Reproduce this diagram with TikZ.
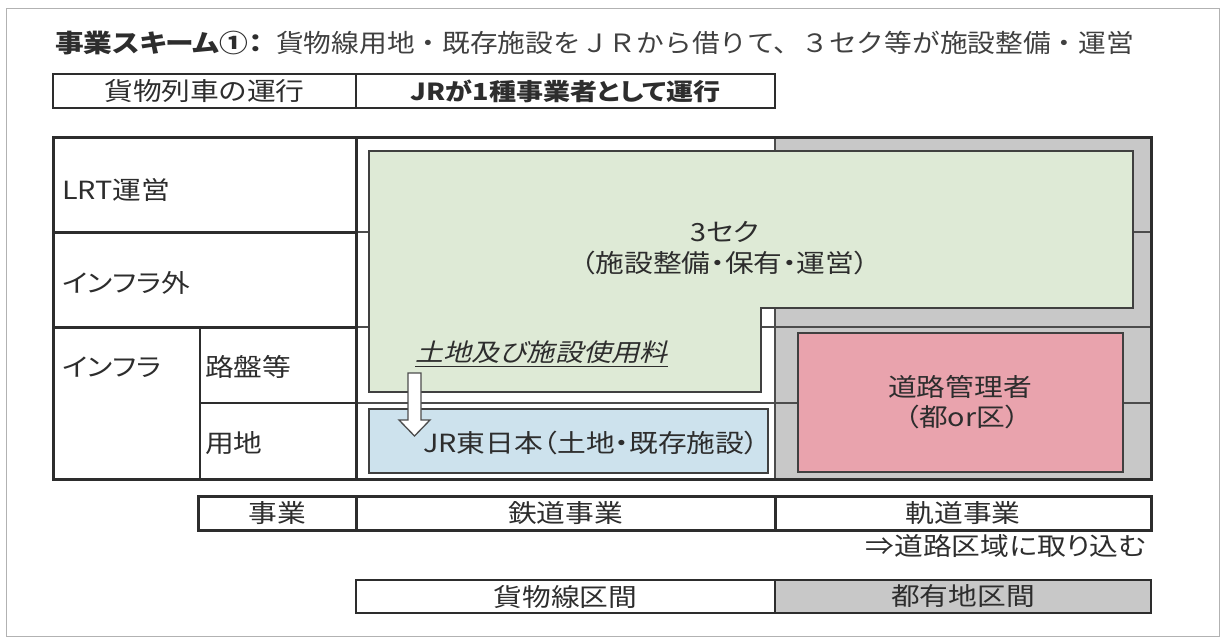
\documentclass[tikz,border=0pt]{standalone}
\usepackage{fontspec}
\usepackage{graphicx}
\newfontfamily\jp[FakeStretch=1.15,RawFeature=+palt]{Noto Sans CJK JP}
\newfontfamily\jpfix[FakeStretch=1.1]{Noto Sans CJK JP}
\newfontfamily\jpit[FakeStretch=1.15,FakeSlant=0.25,RawFeature=+palt]{Noto Sans CJK JP}
\newcommand\jsz[1]{\fontsize{#1pt}{#1pt}\selectfont}
\definecolor{greenbg}{RGB}{222,234,214}
\definecolor{bluebg}{RGB}{205,226,237}
\definecolor{pinkbg}{RGB}{233,163,173}
\definecolor{graybg}{RGB}{200,200,200}
\definecolor{ink}{RGB}{45,45,45}
\begin{document}
\begin{tikzpicture}[x=1pt,y=-1pt,
  txt/.style={inner sep=0pt, text=ink, font=\jp\jsz{25}},
  cellbox/.style={draw=ink, line width=2.5pt, inner sep=0pt, text=ink, font=\jp\jsz{25}},
  thinline/.style={draw=black!70, line width=1.3pt},
  thickline/.style={draw=ink, line width=3pt},
  boxline/.style={draw=black!75, line width=1.5pt}]
\useasboundingbox (0,0) rectangle (1225,639);
\fill[white] (0,0) rectangle (1225,639);
\draw[black!30, line width=1pt] (6,9) rectangle (1219,636);

% title
\node[txt, anchor=west, font=\jp\bfseries\jsz{25}] (t1) at (55,43) {事業スキーム①：};
\node[txt, anchor=west, font=\jpfix\jsz{25.2}, text=black!75] (t2) at (276,43) {貨物線用地・既存施設をＪＲから借りて、３セク等が施設整備・運営};

% top row
\node[cellbox, minimum width=303pt, minimum height=34pt] (freight) at (204.5,91) {貨物列車の運行};
\node[cellbox, minimum width=419pt, minimum height=34pt, font=\jp\bfseries\jsz{23.5}] (jrop) at (565.5,91) {JRが1種事業者として運行};

% main frame background
\fill[graybg] (775,138) rectangle (1151,479);
\draw[thinline] (356,232) -- (1151,232);
\draw[thinline] (356,327) -- (1151,327);
\draw[thinline] (356,403) -- (1151,403);
\draw[thinline] (775,138) -- (775,479);

% green (3seku)
\draw[boxline, fill=greenbg] (369,151) -- (1133,151) -- (1133,308) -- (761,308) -- (761,392) -- (369,392) -- cycle;
\node[txt] (sek) at (725,232) {3セク};
\node[txt] (sek2) at (725,263) {（施設整備・保有・運営）};

% blue JR box
\node[boxline, fill=bluebg, minimum width=399pt, minimum height=64pt, inner sep=0pt] (jr) at (568.5,441) {};
\node[txt] (jrt) at (591,443) {JR東日本（土地・既存施設）};

% pink road box
\node[boxline, fill=pinkbg, minimum width=325pt, minimum height=139pt, inner sep=0pt] (road) at (960.5,402.5) {};
\node[txt] (roadt) at (960,387) {道路管理者};
\node[txt] (roadt2) at (962,417) {（都or区）};

% fee label and arrow
\node[txt, anchor=west, font=\jpit\jsz{24.5}] (fee) at (415,352) {土地及び施設使用料};
\draw[ink, line width=1.2pt] ([yshift=-5pt]fee.base west) -- ([yshift=-5pt]fee.base east);
\draw[black!70, line width=1.3pt, fill=white] (408,373) -- (421,373) -- (421,420) -- (430,420) -- (414.5,436) -- (399,420) -- (408,420) -- cycle;

% label column lines
\draw[thickline] (53,232) -- (356,232);
\draw[thickline] (53,327) -- (356,327);
\draw[draw=ink, line width=2pt] (200,403) -- (356,403);
\draw[draw=ink, line width=2pt] (200,327) -- (200,479);
\draw[thickline] (356,138) -- (356,479);
\draw[thickline] (53,138) rectangle (1151,479);

% labels
\node[txt, anchor=west] (lrt) at (62,190) {LRT運営};
\node[txt, anchor=west] (infout) at (62,283) {インフラ外};
\node[txt, anchor=west] (inf) at (62,367) {インフラ};
\node[txt, anchor=west] (roban) at (205,367) {路盤等};
\node[txt, anchor=west] (yochi) at (205,443) {用地};

% business row
\node[cellbox, line width=3pt, minimum width=158pt, minimum height=34pt] (biz) at (277,513) {事業};
\node[cellbox, line width=3pt, minimum width=419pt, minimum height=34pt] (rail) at (565.5,513) {鉄道事業};
\node[cellbox, line width=3pt, minimum width=376pt, minimum height=34pt] (tram) at (963,513) {軌道事業};
\node[txt, anchor=east] (note) at (1146,546) {⇒道路区域に取り込む};

% section row
\node[cellbox, line width=1.5pt, minimum width=419pt, minimum height=33pt] (sec1) at (565.5,596.5) {貨物線区間};
\node[cellbox, line width=1.5pt, fill=graybg, minimum width=376pt, minimum height=33pt] (sec2) at (963,596.5) {都有地区間};
\end{tikzpicture}
\end{document}
